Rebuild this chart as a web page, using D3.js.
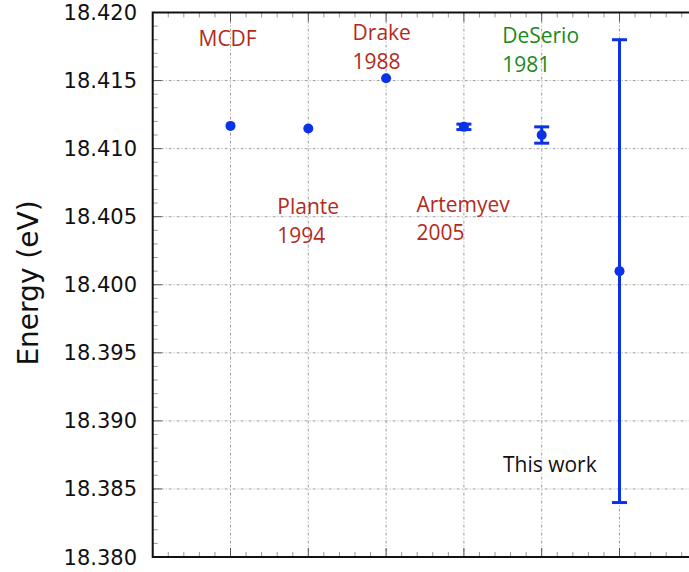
<!DOCTYPE html>
<html><head><meta charset="utf-8">
<script src="https://cdn.jsdelivr.net/npm/d3@7"></script>
<style>body{margin:0;background:#fff}svg{display:block}</style>
</head><body>
<script>
// Data
const categories = ["MCDF", "Plante 1994", "Drake 1988", "Artemyev 2005", "DeSerio 1981", "This work"];
const energies = [18.41167, 18.41148, 18.41517, 18.41160, 18.41100, 18.40100];
const errors = [0, 0, 0, 0.0002, 0.0006, 0.0170];
const yTicks = [18.380, 18.385, 18.390, 18.395, 18.400, 18.405, 18.410, 18.415, 18.420];

(function () {
const W = 689, H = 572;
const svg = d3.select("body").append("svg").attr("width", W).attr("height", H);

const pLeft = 152.7, pTop = 12.5, pBottom = 557;
const step = 77.8;
const x = d3.scaleLinear().domain([0, 7]).range([pLeft, pLeft + 7 * step]);
const y = d3.scaleLinear().domain([18.380, 18.420]).range([pBottom, pTop]);
const pRight = x(7);

// grid
const grid = svg.append("g").attr("stroke", "#a0a0a0").attr("stroke-width", 1)
  .attr("stroke-dasharray", "3,2,1,2");
d3.range(1, 7).forEach(i => {
  grid.append("line").attr("x1", x(i)).attr("x2", x(i)).attr("y1", pTop).attr("y2", pBottom);
});
yTicks.slice(1, -1).forEach(v => {
  grid.append("line").attr("x1", pLeft).attr("x2", pRight).attr("y1", y(v)).attr("y2", y(v));
});

// minor/major ticks
const ticks = svg.append("g");
d3.range(0, 41).forEach(k => {
  const v = 18.380 + k * 0.001;
  const major = k % 5 === 0;
  ticks.append("line").attr("x1", pLeft).attr("x2", pLeft + (major ? 9 : 5))
    .attr("y1", y(v)).attr("y2", y(v))
    .attr("stroke", major ? "#555" : "#999").attr("stroke-width", 1);
});
d3.range(0, 36).forEach(k => {
  const v = k * 0.2;
  const major = k % 5 === 0;
  const len = major ? 9 : 5;
  ticks.append("line").attr("x1", x(v)).attr("x2", x(v)).attr("y1", pBottom).attr("y2", pBottom - len)
    .attr("stroke", major ? "#555" : "#999").attr("stroke-width", 1);
  ticks.append("line").attr("x1", x(v)).attr("x2", x(v)).attr("y1", pTop).attr("y2", pTop + len)
    .attr("stroke", major ? "#555" : "#999").attr("stroke-width", 1);
});

// axes frame
svg.append("rect").attr("x", pLeft).attr("y", pTop).attr("width", pRight - pLeft).attr("height", pBottom - pTop)
  .attr("fill", "none").attr("stroke", "#111").attr("stroke-width", 2);

// y tick labels
svg.append("g").selectAll("text").data(yTicks).join("text")
  .attr("x", 137).attr("y", d => y(d)).attr("dy", "0.36em")
  .attr("text-anchor", "end")
  .attr("font-family", "DejaVu Sans").attr("font-size", 21).attr("fill", "#111")
  .text(d => d3.format(".3f")(d));

// y title
svg.append("text").attr("transform", "translate(38,283) rotate(-90)")
  .attr("text-anchor", "middle").attr("font-family", "DejaVu Sans").attr("font-size", 28).attr("fill", "#111")
  .text("Energy (eV)");

// error bars
const blue = "#0a32e6";
const eb = svg.append("g").attr("stroke", blue).attr("stroke-width", 3);
energies.forEach((v, i) => {
  const e = errors[i];
  if (e <= 0) return;
  const cx = x(i + 1);
  eb.append("line").attr("x1", cx).attr("x2", cx).attr("y1", y(v + e)).attr("y2", y(v - e));
  eb.append("line").attr("x1", cx - 7.5).attr("x2", cx + 7.5).attr("y1", y(v + e)).attr("y2", y(v + e));
  eb.append("line").attr("x1", cx - 7.5).attr("x2", cx + 7.5).attr("y1", y(v - e)).attr("y2", y(v - e));
});
svg.append("g").selectAll("circle").data(energies).join("circle")
  .attr("cx", (d, i) => x(i + 1)).attr("cy", d => y(d)).attr("r", 5).attr("fill", blue);

// annotations
const red = "#b22a1c", green = "#1b8a1b";
const ann = [
  {lines: ["MCDF"], i: 1, dx: -32, y0: 46, c: red},
  {lines: ["Plante", "1994"], i: 2, dx: -31, y0: 214, c: red},
  {lines: ["Drake", "1988"], i: 3, dx: -33.5, y0: 40, c: red},
  {lines: ["Artemyev", "2005"], i: 4, dx: -47.5, y0: 211.5, c: red},
  {lines: ["DeSerio", "1981"], i: 5, dx: -39.5, y0: 43, c: green},
  {lines: ["This work"], i: 6, dx: -116.5, y0: 472, c: "#111"}
];
ann.forEach(a => {
  const t = svg.append("text").attr("font-family", "Open Sans").attr("font-size", 21).attr("fill", a.c);
  a.lines.forEach((s, k) => {
    t.append("tspan").attr("x", x(a.i) + a.dx).attr("y", a.y0 + k * 28.5).text(s);
  });
});
})();
</script>
</body></html>
